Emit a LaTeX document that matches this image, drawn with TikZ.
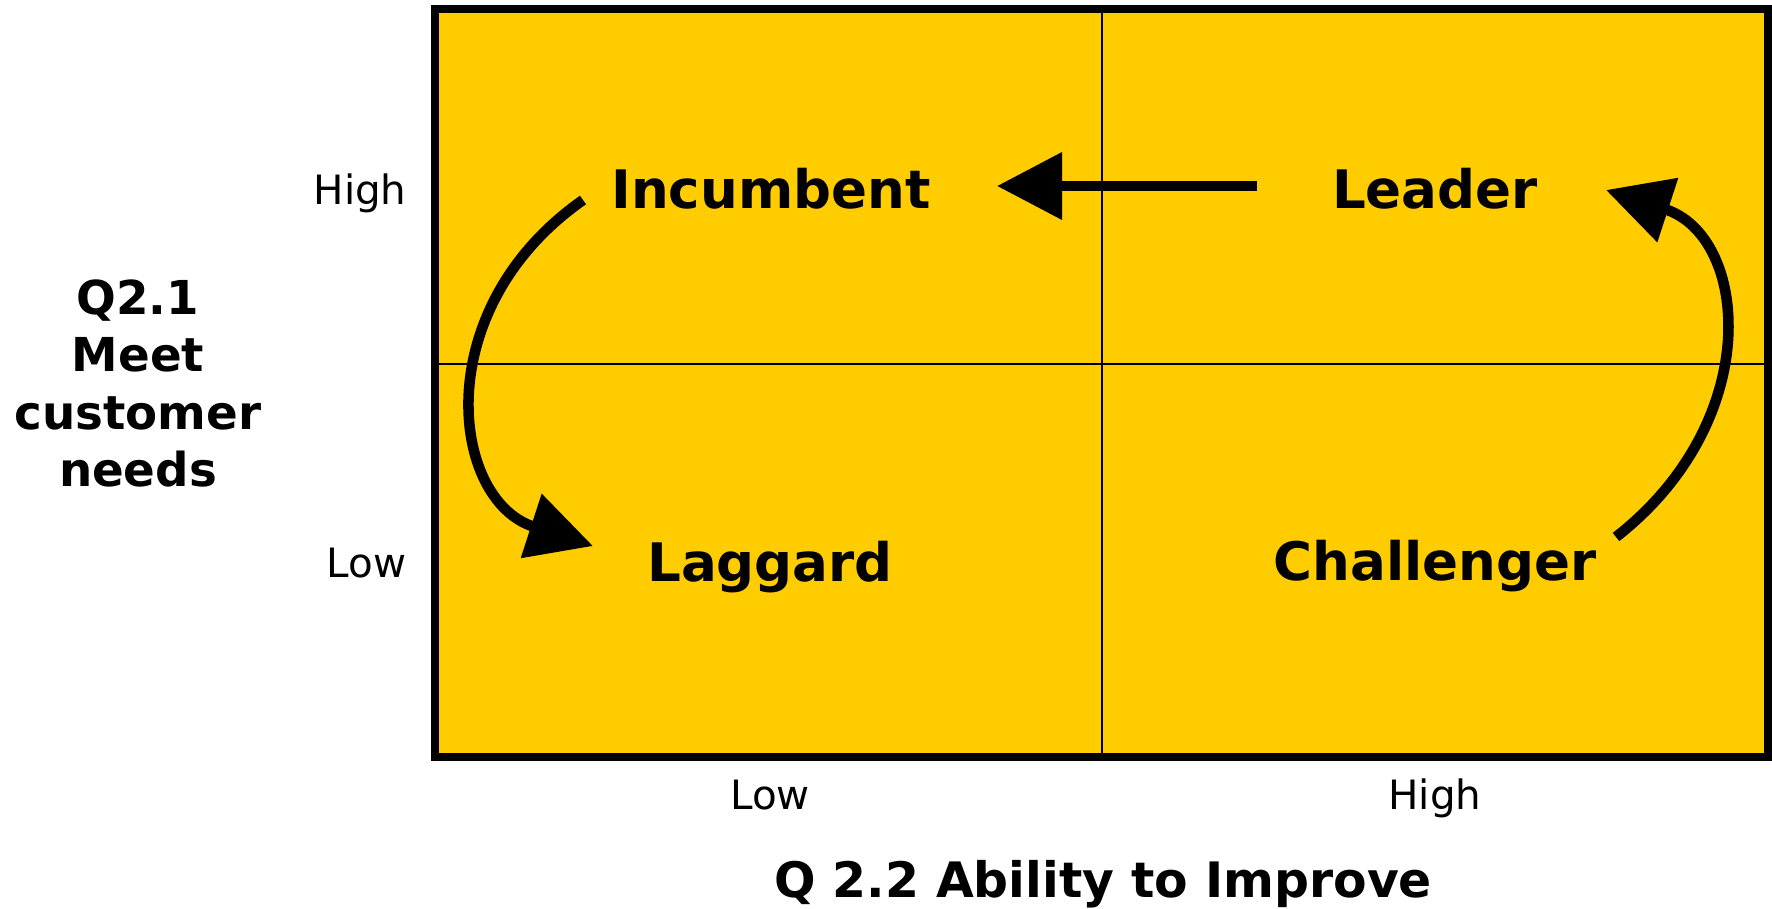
\documentclass[tikz,border=0pt]{standalone}
\usepackage{fontspec}
\setmainfont{DejaVu Sans}
\usetikzlibrary{arrows.meta}
\definecolor{quadyellow}{HTML}{FFCC00}

\begin{document}
\begin{tikzpicture}[
  quad/.style={font=\fontsize{15.1}{18}\selectfont\bfseries, anchor=base},
  tick/.style={font=\fontsize{11.5}{14}\selectfont, anchor=base},
  axis/.style={font=\fontsize{13.3}{16.4}\selectfont\bfseries, align=center},
  move/.style={line width=3pt, -{Triangle[length=6.5mm,width=6.5mm]}}
]
  \useasboundingbox (0,0) rectangle (17.72,9.08);
  % yellow matrix and the two dividing lines
  \draw[line width=2.2pt, fill=quadyellow] (4.35,1.51) rectangle (17.68,8.99);
  \draw[line width=0.7pt] (11.02,1.51) -- (11.02,8.99);
  \draw[line width=0.7pt] (4.35,5.44) -- (17.68,5.44);

  % quadrant names
  \node[quad] (incumbent) at (7.71,7.00) {Incumbent};
  \node[quad] (leader) at (14.35,7.00) {Leader};
  \node[quad] (laggard) at (7.70,3.27) {Laggard};
  \node[quad] (challenger) at (14.35,3.28) {Challenger};

  % axis ticks and titles
  \node[tick, anchor=base east] (yhigh) at (4.19,7.04) {High};
  \node[tick, anchor=base east] (ylow) at (4.19,3.31) {Low};
  \node[tick] (xlow) at (7.70,0.99) {Low};
  \node[tick] (xhigh) at (14.35,0.99) {High};
  \node[axis] (ytitle) at (1.38,5.245) {Q2.1\\Meet\\customer\\needs};
  \node[axis, font=\fontsize{13.9}{16.4}\selectfont\bfseries, anchor=base] (xtitle) at (11.03,0.11) {Q 2.2 Ability to Improve};

  % moves between quadrants
  \coordinate (leadOut) at (12.57,7.22);
  \coordinate (incIn) at (9.97,7.22);
  \coordinate (incOut) at (5.83,7.08);
  \coordinate (lagIn) at (5.93,3.62);
  \coordinate (chalOut) at (16.16,3.71);
  \coordinate (leadIn) at (16.06,7.18);
  \draw[move] (leadOut) -- (incIn);
  \draw[move] (incOut) .. controls +(215:1.9) and +(162:1.5) .. (lagIn);
  \draw[move] (chalOut) .. controls +(38:1.9) and +(342:1.5) .. (leadIn);
\end{tikzpicture}
\end{document}
